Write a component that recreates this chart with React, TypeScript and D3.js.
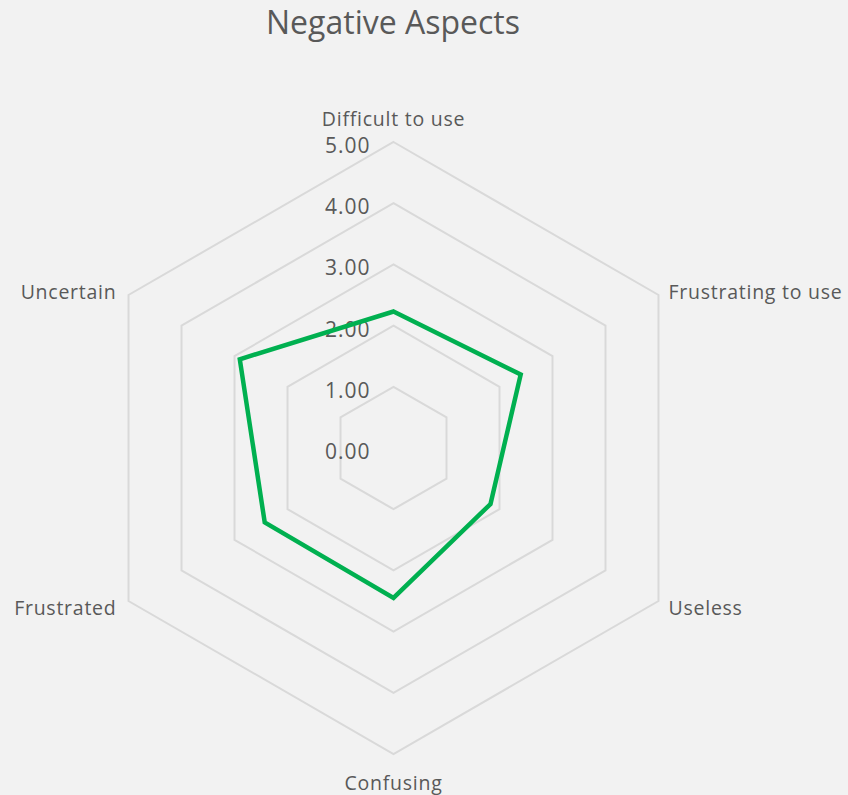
import React, { useEffect } from 'react'
import { scaleLinear, lineRadial, curveLinearClosed, range } from 'd3'

// Data
const categories = ['Difficult to use', 'Frustrating to use', 'Useless', 'Confusing', 'Frustrated', 'Uncertain']
const scores = [2.23, 2.4, 1.83, 2.45, 2.43, 2.9]
const tickValues = [0, 1, 2, 3, 4, 5]

const W = 848
const H = 795
const cx = 393.5
const cy = 448
const textColor = '#595959'
const font = "'Open Sans', sans-serif"

const App = () => {
    useEffect(() => {
        document.body.style.margin = '0'
    }, [])

    const r = scaleLinear().domain([0, 5]).range([0, 306])
    const angle = (i: number) => (i * 2 * Math.PI) / categories.length

    const radar = lineRadial<number>()
        .angle((d, i) => angle(i))
        .radius(d => r(d))
        .curve(curveLinearClosed)

    const ring = (v: number) =>
        lineRadial<number>()
            .angle((d, i) => angle(i))
            .radius(() => r(v))
            .curve(curveLinearClosed)(range(categories.length))

    // where each category label goes, relative to the outer vertex
    const labelPos = (i: number) => {
        const a = angle(i)
        const R = r(5)
        const x = Math.sin(a) * R
        const y = -Math.cos(a) * R
        if (i === 0) return { x, y: y - 16, anchor: 'middle' }
        if (i === 3) return { x, y: y + 36, anchor: 'middle' }
        const dy = y < 0 ? 4 : 14
        if (x > 0) return { x: x + 10, y: y + dy, anchor: 'start' }
        return { x: x - 12, y: y + dy, anchor: 'end' }
    }

    return (
        <svg width={W} height={H} style={{ display: 'block', background: '#f2f2f2' }}>
            <rect width={W} height={H} fill="#f2f2f2" />
            <text x={393} y={34} textAnchor="middle" fontFamily={font} fontSize={32} fill={textColor}>
                Negative Aspects
            </text>
            <g transform={`translate(${cx},${cy})`}>
                {tickValues.filter(v => v > 0).map(v => (
                    <path key={v} d={ring(v) || ''} fill="none" stroke="#d9d9d9" strokeWidth={2} />
                ))}
                {tickValues.map(v => (
                    <text key={v} x={-23} y={-r(v) + 11} textAnchor="end" fontFamily={font} fontSize={21}
                        letterSpacing={1} fill={textColor}>
                        {v.toFixed(2)}
                    </text>
                ))}
                <path d={radar(scores) || ''} fill="none" stroke="#00b050" strokeWidth={4.5} strokeLinejoin="miter" />
                {categories.map((c, i) => {
                    const p = labelPos(i)
                    return (
                        <text key={c} x={p.x} y={p.y} textAnchor={p.anchor} fontFamily={font} fontSize={19.5}
                            letterSpacing={0.75} fill={textColor}>
                            {c}
                        </text>
                    )
                })}
            </g>
        </svg>
    )
}

export default App
